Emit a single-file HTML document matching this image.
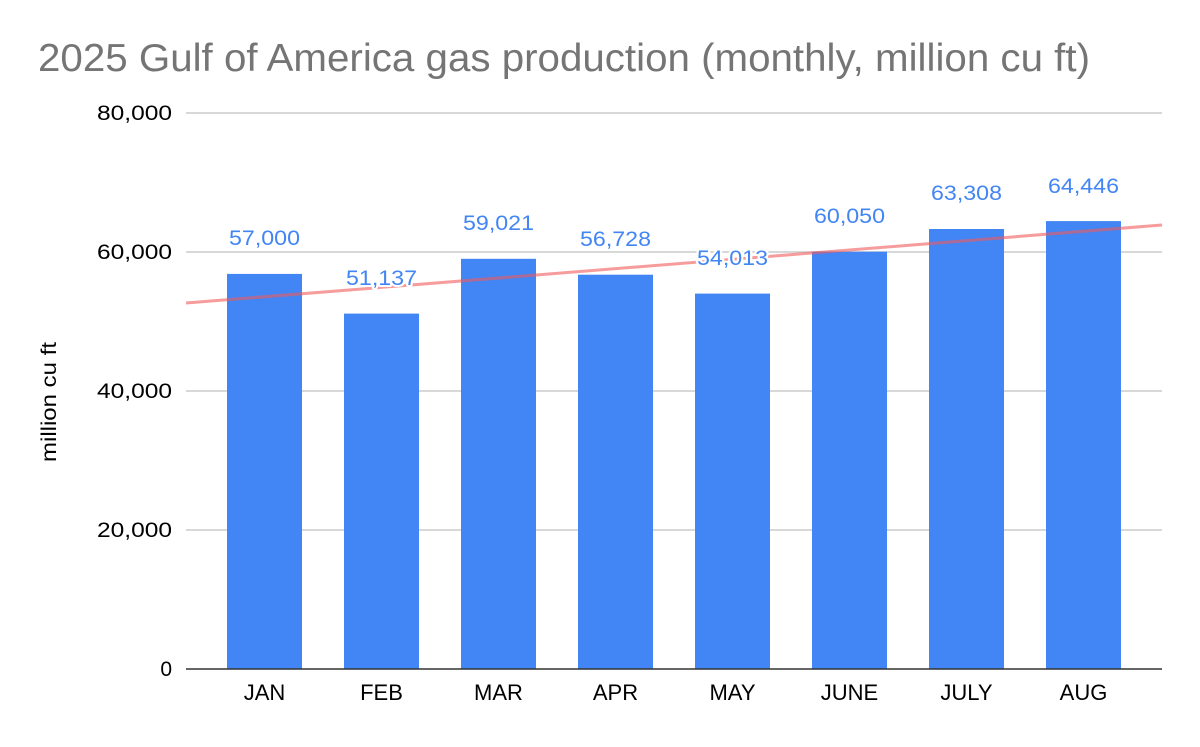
<!DOCTYPE html>
<html><head><meta charset="utf-8"><style>
html,body{margin:0;padding:0;background:#fff;}
</style></head><body>
<svg width="1200" height="742" xmlns="http://www.w3.org/2000/svg" font-family="Liberation Sans, Arial, sans-serif">
<rect width="1200" height="742" fill="#fff"/>
<text x="38" y="71" font-size="39" fill="#757575" textLength="1052" lengthAdjust="spacingAndGlyphs">2025 Gulf of America gas production (monthly, million cu ft)</text>
<g stroke="#cccccc" stroke-width="1.5">
<line x1="186" y1="113" x2="1162" y2="113"/>
<line x1="186" y1="252" x2="1162" y2="252"/>
<line x1="186" y1="391" x2="1162" y2="391"/>
<line x1="186" y1="530" x2="1162" y2="530"/>
</g>
<g font-size="21" fill="#000" text-anchor="end">
<text x="172" y="120" textLength="75" lengthAdjust="spacingAndGlyphs">80,000</text>
<text x="172" y="259" textLength="75" lengthAdjust="spacingAndGlyphs">60,000</text>
<text x="172" y="398" textLength="75" lengthAdjust="spacingAndGlyphs">40,000</text>
<text x="172" y="537" textLength="75" lengthAdjust="spacingAndGlyphs">20,000</text>
<text x="172" y="676">0</text>
</g>
<text transform="translate(56,402) rotate(-90)" font-size="21" text-anchor="middle" fill="#000" textLength="120" lengthAdjust="spacingAndGlyphs">million cu ft</text>
<g fill="#4285f4">
<rect x="227" y="273.9" width="75" height="395.1"/>
<rect x="344" y="313.6" width="75" height="355.4"/>
<rect x="461" y="258.8" width="75" height="410.2"/>
<rect x="578" y="274.7" width="75" height="394.3"/>
<rect x="695" y="293.6" width="75" height="375.4"/>
<rect x="812" y="251.7" width="75" height="417.3"/>
<rect x="929" y="229.0" width="75" height="440.0"/>
<rect x="1046" y="221.1" width="75" height="447.9"/>
</g>
<line x1="186" y1="669" x2="1162" y2="669" stroke="#333" stroke-width="1.5"/>
<line x1="186" y1="303" x2="1162" y2="225" stroke="#f25a5a" stroke-opacity="0.6" stroke-width="3"/>
<g font-size="21" fill="#4285f4" text-anchor="middle" stroke="#fff" stroke-width="4" paint-order="stroke" stroke-linejoin="round">
<text x="264.5" y="245" textLength="71" lengthAdjust="spacingAndGlyphs">57,000</text>
<text x="381.5" y="285" textLength="71" lengthAdjust="spacingAndGlyphs">51,137</text>
<text x="498.5" y="230" textLength="71" lengthAdjust="spacingAndGlyphs">59,021</text>
<text x="615.5" y="246" textLength="71" lengthAdjust="spacingAndGlyphs">56,728</text>
<text x="732.5" y="265" textLength="71" lengthAdjust="spacingAndGlyphs">54,013</text>
<text x="849.5" y="223" textLength="71" lengthAdjust="spacingAndGlyphs">60,050</text>
<text x="966.5" y="200" textLength="71" lengthAdjust="spacingAndGlyphs">63,308</text>
<text x="1083.5" y="193" textLength="71" lengthAdjust="spacingAndGlyphs">64,446</text>
</g>
<g font-size="22" fill="#000" text-anchor="middle">
<text x="264.5" y="700">JAN</text>
<text x="381.5" y="700">FEB</text>
<text x="498.5" y="700">MAR</text>
<text x="615.5" y="700">APR</text>
<text x="732.5" y="700">MAY</text>
<text x="849.5" y="700">JUNE</text>
<text x="966.5" y="700">JULY</text>
<text x="1083.5" y="700">AUG</text>
</g>
</svg>
</body></html>
